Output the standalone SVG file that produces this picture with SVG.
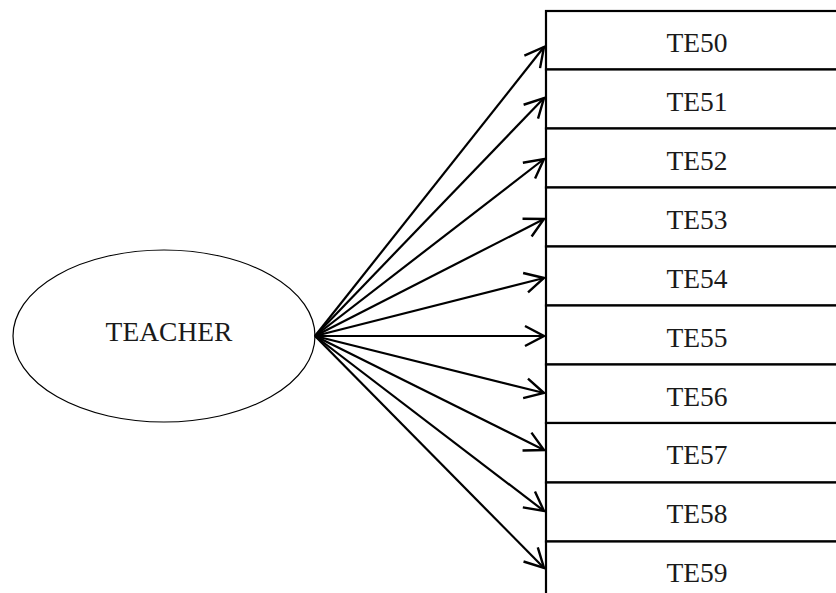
<svg xmlns="http://www.w3.org/2000/svg" width="836" height="593" viewBox="0 0 836 593">
<style>
.box{fill:#fff;stroke:#000;stroke-width:2.2}
.lbl{font-family:"Liberation Serif","Times New Roman",serif;font-size:27.5px;fill:#1a1a1a;text-anchor:middle}
.conn{stroke:#000;stroke-width:2.2;fill:none;marker-end:url(#arr)}
</style>
<defs>
<marker id="arr" markerUnits="userSpaceOnUse" markerWidth="24" markerHeight="24" refX="20" refY="11" orient="auto" viewBox="0 0 24 22">
<path d="M1,1 L20,11 L1,21" fill="none" stroke="#000" stroke-width="2.4"/>
</marker>
</defs>
<rect width="836" height="593" fill="#fff"/>
<g id="teacher">
<ellipse cx="164" cy="336" rx="151" ry="86" fill="#fff" stroke="#000" stroke-width="1.2"/>
<text class="lbl" x="169" y="341">TEACHER</text>
</g>
<g id="TE50"><rect class="box" x="546" y="11" width="300" height="58.5"/><text class="lbl" x="697" y="52">TE50</text></g>
<g id="TE51"><rect class="box" x="546" y="69.5" width="300" height="59"/><text class="lbl" x="697" y="111">TE51</text></g>
<g id="TE52"><rect class="box" x="546" y="128.5" width="300" height="59"/><text class="lbl" x="697" y="170">TE52</text></g>
<g id="TE53"><rect class="box" x="546" y="187.5" width="300" height="59"/><text class="lbl" x="697" y="229">TE53</text></g>
<g id="TE54"><rect class="box" x="546" y="246.5" width="300" height="59"/><text class="lbl" x="697" y="288">TE54</text></g>
<g id="TE55"><rect class="box" x="546" y="305.5" width="300" height="59"/><text class="lbl" x="697" y="347">TE55</text></g>
<g id="TE56"><rect class="box" x="546" y="364.5" width="300" height="58.5"/><text class="lbl" x="697" y="406">TE56</text></g>
<g id="TE57"><rect class="box" x="546" y="423" width="300" height="59.5"/><text class="lbl" x="697" y="464">TE57</text></g>
<g id="TE58"><rect class="box" x="546" y="482.5" width="300" height="59"/><text class="lbl" x="697" y="523">TE58</text></g>
<g id="TE59"><rect class="box" x="546" y="541.5" width="300" height="80"/><text class="lbl" x="697" y="582">TE59</text></g>
<g id="connectors">
<line class="conn" x1="315" y1="336" x2="544" y2="47"/>
<line class="conn" x1="315" y1="336" x2="544" y2="98"/>
<line class="conn" x1="315" y1="336" x2="544" y2="159"/>
<line class="conn" x1="315" y1="336" x2="544" y2="219"/>
<line class="conn" x1="315" y1="336" x2="544" y2="278"/>
<line class="conn" x1="315" y1="336" x2="544" y2="336"/>
<line class="conn" x1="315" y1="336" x2="544" y2="393"/>
<line class="conn" x1="315" y1="336" x2="544" y2="450"/>
<line class="conn" x1="315" y1="336" x2="544" y2="511"/>
<line class="conn" x1="315" y1="336" x2="544" y2="568"/>
</g>
</svg>
